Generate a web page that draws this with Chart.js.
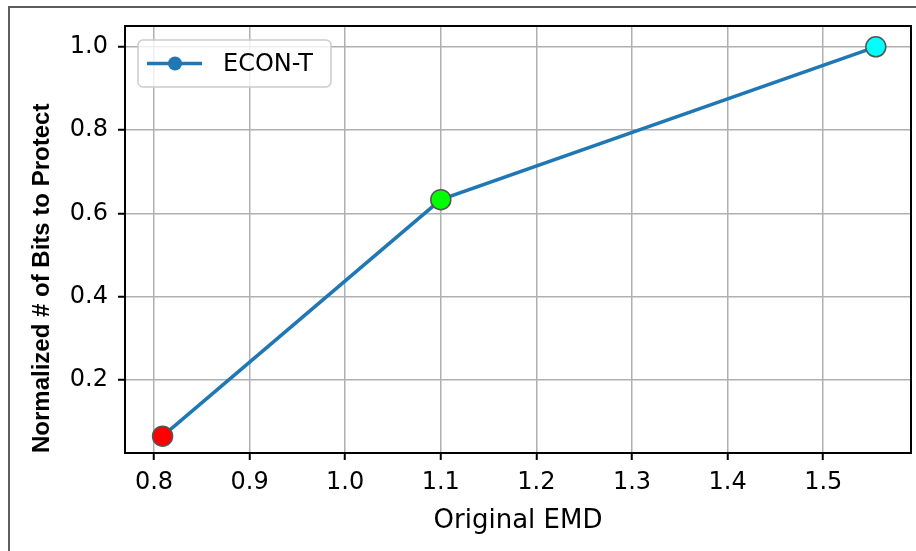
<!DOCTYPE html>
<html>
<head>
<meta charset="utf-8">
<script src="https://cdn.jsdelivr.net/npm/chart.js@4.4.1/dist/chart.umd.min.js"></script>
<style>
  html, body { margin: 0; padding: 0; background: #fff; }
  #wrap { width: 916px; height: 551px; }
</style>
</head>
<body>
<div id="wrap"><canvas id="chart" width="916" height="551"></canvas></div>
<script>
// values
const seriesName = 'ECON-T';
const emdValues = [0.809, 1.1, 1.555];
const bitsValues = [0.065, 0.633, 1.0];
const pointColors = ['#ff0000', '#00ff00', '#00ffff'];
const xTickValues = [0.8, 0.9, 1.0, 1.1, 1.2, 1.3, 1.4, 1.5];
const yTickValues = [0.2, 0.4, 0.6, 0.8, 1.0];

const lineBlue = '#1f77b4';

// white page, the cropped outer frame and the full box round the plot area
const framePlugin = {
    id: 'frame',
    beforeDraw(chart) {
        const ctx = chart.ctx;
        ctx.save();
        ctx.fillStyle = '#fff';
        ctx.fillRect(0, 0, chart.width, chart.height);
        ctx.strokeStyle = '#5e5e5e';
        ctx.lineWidth = 2;
        ctx.beginPath();
        ctx.moveTo(9, chart.height);
        ctx.lineTo(9, 7);
        ctx.lineTo(chart.width, 7);
        ctx.stroke();
        ctx.restore();
    },
    beforeDatasetsDraw(chart) {
        const { ctx, chartArea: a } = chart;
        ctx.save();
        ctx.strokeStyle = '#000';
        ctx.lineWidth = 2;
        ctx.strokeRect(a.left, a.top, a.right - a.left, a.bottom - a.top);

        // legend box in the upper left corner, like matplotlib's
        const ds = chart.data.datasets[0];
        const bx = a.left + 13, by = a.top + 14, bw = 193, bh = 47;
        ctx.fillStyle = 'rgba(255,255,255,0.8)';
        ctx.strokeStyle = '#cccccc';
        ctx.lineWidth = 1.5;
        ctx.beginPath();
        ctx.roundRect(bx, by, bw, bh, 5);
        ctx.fill();
        ctx.stroke();
        const cy = by + bh / 2;
        ctx.strokeStyle = ds.borderColor;
        ctx.lineWidth = 3.5;
        ctx.beginPath();
        ctx.moveTo(bx + 9, cy);
        ctx.lineTo(bx + 64, cy);
        ctx.stroke();
        ctx.fillStyle = ds.borderColor;
        ctx.beginPath();
        ctx.arc(bx + 37, cy, 7, 0, Math.PI * 2);
        ctx.fill();
        ctx.fillStyle = '#000';
        ctx.font = '24px "DejaVu Sans"';
        ctx.textBaseline = 'middle';
        ctx.fillText(ds.label, bx + 85, cy + 1);
        ctx.restore();
    }
};

new Chart(document.getElementById('chart'), {
    type: 'line',
    data: {
        labels: emdValues,
        datasets: [{
            label: seriesName,
            data: emdValues.map((x, i) => ({ x: x, y: bitsValues[i] })),
            borderColor: lineBlue,
            borderWidth: 3.5,
            pointRadius: 10,
            pointHoverRadius: 10,
            pointBackgroundColor: pointColors,
            pointBorderColor: '#555',
            pointBorderWidth: 1.5,
            tension: 0,
            clip: false
        }]
    },
    options: {
        responsive: false,
        animation: false,
        devicePixelRatio: 1,
        layout: { autoPadding: false, padding: { left: 0, top: 26, right: 5, bottom: 0 } },
        plugins: {
            legend: { display: false },
            tooltip: { enabled: false }
        },
        scales: {
            x: {
                type: 'linear',
                min: 0.7697,
                max: 1.5918,
                afterFit: (s) => { s.height = 98; s.paddingLeft = 0; s.paddingRight = 0; },
                afterBuildTicks: (s) => { s.ticks = xTickValues.map(v => ({ value: v })); },
                ticks: {
                    includeBounds: false,
                    stepSize: 0.1,
                    padding: 8,
                    color: '#000',
                    font: { family: 'DejaVu Sans', size: 24 },
                    callback: (v) => v.toFixed(1)
                },
                grid: { z: -1, color: '#b0b0b0', lineWidth: 1.5, tickLength: 7, tickColor: '#000', tickWidth: 2 },
                border: { color: '#000', width: 2 },
                title: {
                    display: true,
                    text: 'Original EMD',
                    color: '#000',
                    font: { family: 'DejaVu Sans', size: 26 },
                    padding: { top: 0, bottom: 14 }
                }
            },
            y: {
                type: 'linear',
                min: 0.0245,
                max: 1.05,
                afterFit: (s) => { s.width = 125; s.paddingTop = 0; s.paddingBottom = 0; },
                afterBuildTicks: (s) => { s.ticks = yTickValues.map(v => ({ value: v })); },
                ticks: {
                    includeBounds: false,
                    stepSize: 0.2,
                    padding: 10,
                    color: '#000',
                    font: { family: 'DejaVu Sans', size: 24 },
                    callback: (v) => v.toFixed(1)
                },
                grid: { z: -1, color: '#b0b0b0', lineWidth: 1.5, tickLength: 7, tickColor: '#000', tickWidth: 2 },
                border: { color: '#000', width: 2 },
                title: {
                    display: true,
                    text: 'Normalized # of Bits to Protect',
                    align: 'start',
                    color: '#000',
                    font: { family: 'Liberation Sans', size: 24, weight: 'bold' },
                    padding: { top: 28, bottom: 0 }
                }
            }
        }
    },
    plugins: [framePlugin]
});
</script>
</body>
</html>
